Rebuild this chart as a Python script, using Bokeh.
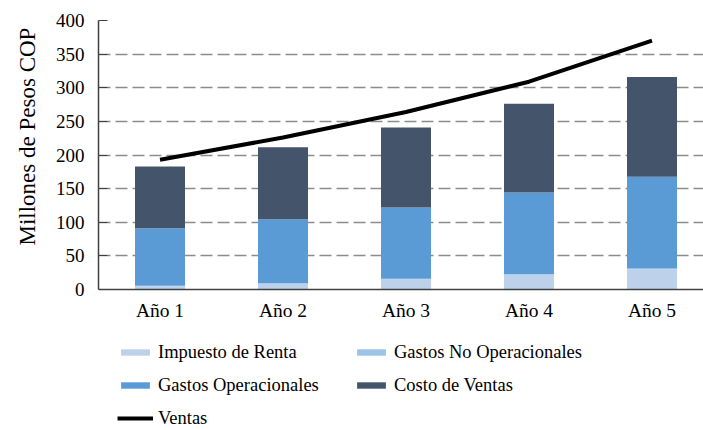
from bokeh.plotting import figure
from bokeh.models import Range1d, FixedTicker, Legend, LegendItem, ColumnDataSource, Title
from bokeh.embed import file_html
from bokeh.resources import INLINE

years = ["Año 1", "Año 2", "Año 3", "Año 4", "Año 5"]
impuesto = [5, 8.5, 15, 22, 30]
gastos_no_op = [0.5, 0.7, 0.9, 1.1, 1.3]
gastos_op = [85.5, 95.3, 106, 121, 136.5]
costo_ventas = [92, 107, 119, 132, 148]
ventas = [193, 226, 264, 309, 370]
y_ticks = [0, 50, 100, 150, 200, 250, 300, 350, 400]

series = ["impuesto", "gastos_no_op", "gastos_op", "costo_ventas"]
labels = ["Impuesto de Renta", "Gastos No Operacionales", "Gastos Operacionales", "Costo de Ventas"]
colors = ["#BDD1EB", "#9DC3E6", "#5B9BD5", "#44546A"]

x = list(range(len(years)))
src = ColumnDataSource(dict(x=x, impuesto=impuesto, gastos_no_op=gastos_no_op,
                            gastos_op=gastos_op, costo_ventas=costo_ventas, ventas=ventas))

FONT = "Liberation Serif"

# frame spans y=20..430; 400 units -> 269 px
y_lo = 400 - 410 / (269 / 400)
p = figure(width=703, height=430, output_backend="svg", toolbar_location=None,
           x_range=Range1d(-0.5, -0.5 + 605 / 123), y_range=Range1d(y_lo, 400),
           min_border_left=98, min_border_right=0, min_border_top=20, min_border_bottom=0)
p.outline_line_color = None

renderers = p.vbar_stack(series, x="x", width=50 / 123, color=colors, source=src, line_color=None)
line = p.line("x", "ventas", source=src, line_color="black", line_width=4, line_join="round", line_cap="butt")

p.xaxis.fixed_location = 0
p.xaxis.ticker = FixedTicker(ticks=x)
p.xaxis.major_label_overrides = {i: years[i] for i in x}
p.xaxis.major_tick_in = 0
p.xaxis.major_tick_out = 0
p.xaxis.minor_tick_line_color = None
p.xaxis.axis_line_color = "#404040"
p.xaxis.axis_line_width = 1.5
p.xaxis.major_label_standoff = 10
p.xaxis.major_label_text_font = FONT
p.xaxis.major_label_text_font_size = "19.5px"
p.xaxis.major_label_text_color = "black"

p.yaxis.bounds = (0, 400)
p.yaxis.ticker = FixedTicker(ticks=y_ticks)
p.yaxis.major_tick_in = 9
p.yaxis.major_tick_out = 0
p.yaxis.minor_tick_line_color = None
p.yaxis.axis_line_color = "#404040"
p.yaxis.major_tick_line_color = "#404040"
p.yaxis.axis_line_width = 1.5
p.yaxis.major_label_standoff = 14
p.yaxis.major_label_text_font = FONT
p.yaxis.major_label_text_font_size = "19px"
p.yaxis.major_label_text_color = "black"

ytitle = Title(text="Millones de Pesos COP", align="left", offset=185, standoff=25,
               text_font=FONT, text_font_size="23px", text_font_style="normal", text_color="black")
p.add_layout(ytitle, "left")

p.xgrid.grid_line_color = None
p.ygrid.ticker = FixedTicker(ticks=y_ticks[1:-1])
p.ygrid.grid_line_color = "#8C8C8C"
p.ygrid.grid_line_width = 1.5
p.ygrid.grid_line_dash = "12 5"

# legend columns fill top-to-bottom: col 1 = Impuesto, Gastos Op, Ventas; col 2 = Gastos No Op, Costo
legend_order = [0, 2, 4, 1, 3]
all_items = [LegendItem(label=labels[i], renderers=[renderers[i]]) for i in range(4)]
all_items.append(LegendItem(label="Ventas", renderers=[line]))
items = [all_items[i] for i in legend_order]
legend = Legend(items=items, ncols=2, location=(19, 0),
                glyph_width=36, glyph_height=8, label_standoff=5,
                label_width=186, label_height=24, spacing=9, padding=0, margin=0,
                label_text_font=FONT, label_text_font_size="18.5px", label_text_color="black",
                border_line_alpha=0, background_fill_alpha=0)
p.add_layout(legend, "center")

open("out.html", "w").write(file_html(p, INLINE))
